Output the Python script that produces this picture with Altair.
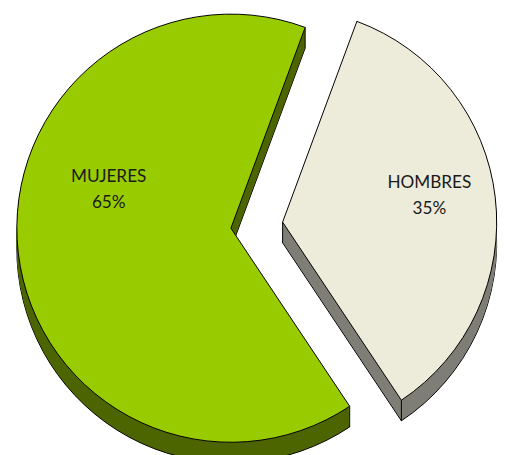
import math
import altair as alt
import pandas as pd

# ---- data ----
categories = ["HOMBRES", "MUJERES"]
values = [35, 65]

# ---- styles ----
TOP_COLORS = {"HOMBRES": "#EDEBD9", "MUJERES": "#99CC00"}
SIDE_COLORS = {"HOMBRES": "#7E7E76", "MUJERES": "#4C6500"}

W, H = 491, 439
CX, CY = 227, 214        # pie centre (plot pixels)
R = 218                  # radius
DEPTH = 21               # 3D thickness
START = math.radians(20.3)
EXPLODE = {"HOMBRES": 53, "MUJERES": 0}
LABEL_ANG = {"HOMBRES": math.radians(81.8), "MUJERES": math.radians(285.3)}
LABEL_R = {"HOMBRES": 151, "MUJERES": 129}


def pick(d, field="datum.category"):
    items = list(d.items())
    last = items[-1][1]
    expr = f"'{last}'" if isinstance(last, str) else str(last)
    for k, v in items[:-1]:
        vv = f"'{v}'" if isinstance(v, str) else str(v)
        expr = f"({field} === '{k}' ? {vv} : {expr})"
    return expr


df = pd.DataFrame({"category": categories, "value": values,
                   "order": list(range(len(categories)))})

base = (
    alt.Chart(df)
    .transform_window(cum="sum(value)", sort=[alt.SortField("order")], frame=[None, 0])
    .transform_joinaggregate(total="sum(value)")
    .transform_calculate(
        a0=f"{START} + (datum.cum - datum.value) / datum.total * 2 * PI",
        a1=f"{START} + datum.cum / datum.total * 2 * PI",
        topc=pick(TOP_COLORS),
        sidec=pick(SIDE_COLORS),
    )
    .transform_calculate(
        mid="(datum.a0 + datum.a1) / 2",
        ex=pick(EXPLODE),
    )
    .transform_calculate(
        cx=f"{CX} + datum.ex * sin(datum.mid)",
        cy=f"{CY} - datum.ex * cos(datum.mid)",
    )
)

xenc = alt.X("cx:Q", scale=None, axis=None)
theta = alt.Theta("a0:Q", scale=None, stack=None)
theta2 = alt.Theta2("a1:Q")
side_color = alt.Color("sidec:N", scale=None, legend=None)
top_color = alt.Color("topc:N", scale=None, legend=None)

side_bottom = base.transform_calculate(yy=f"datum.cy + {DEPTH}").mark_arc(
    radius=R, stroke="black", strokeWidth=1
).encode(x=xenc, y=alt.Y("yy:Q", scale=None, axis=None), theta=theta, theta2=theta2, fill=side_color)

side_fill = (
    base.transform_calculate(depth=f"sequence(1, {DEPTH})")
    .transform_flatten(["depth"])
    .transform_calculate(yy="datum.cy + datum.depth")
    .mark_arc(radius=R)
    .encode(x=xenc, y=alt.Y("yy:Q", scale=None, axis=None), theta=theta, theta2=theta2, fill=side_color)
)

corner_rules = (
    base.transform_calculate(ang="[datum.a0, datum.a1]")
    .transform_flatten(["ang"])
    .transform_calculate(
        px=f"datum.cx + {R} * sin(datum.ang)",
        py=f"datum.cy - {R} * cos(datum.ang)",
    )
    .transform_calculate(py2=f"datum.py + {DEPTH}")
    .mark_rule(color="black", strokeWidth=1)
    .encode(x=alt.X("px:Q", scale=None, axis=None),
            y=alt.Y("py:Q", scale=None, axis=None), y2="py2:Q")
)

apex_rules = (
    base.transform_calculate(cy2=f"datum.cy + {DEPTH}")
    .mark_rule(color="black", strokeWidth=1)
    .encode(x=xenc, y=alt.Y("cy:Q", scale=None, axis=None), y2="cy2:Q")
)

top = base.mark_arc(radius=R, stroke="black", strokeWidth=1).encode(
    x=xenc, y=alt.Y("cy:Q", scale=None, axis=None), theta=theta, theta2=theta2, fill=top_color
)

labels = (
    base.transform_calculate(
        la=pick(LABEL_ANG), lr=pick(LABEL_R),
        txt="datum.category + '\\n' + round(datum.value / datum.total * 100) + '%'",
    )
    .transform_calculate(
        lx="datum.cx + datum.lr * sin(datum.la)",
        ly="datum.cy - datum.lr * cos(datum.la)",
    )
    .mark_text(font="Lato", fontSize=17.5, lineBreak="\n", lineHeight=26, dy=-18,
               color="#1a1a1a", align="center", baseline="middle")
    .encode(x=alt.X("lx:Q", scale=None, axis=None),
            y=alt.Y("ly:Q", scale=None, axis=None), text="txt:N")
)

chart = (
    alt.layer(side_bottom, side_fill, corner_rules, apex_rules, top, labels)
    .properties(width=W, height=H, padding=0, background="white")
    .configure_view(stroke=None)
)

chart.save("out.html", embed_options={"renderer": "svg", "actions": False})
